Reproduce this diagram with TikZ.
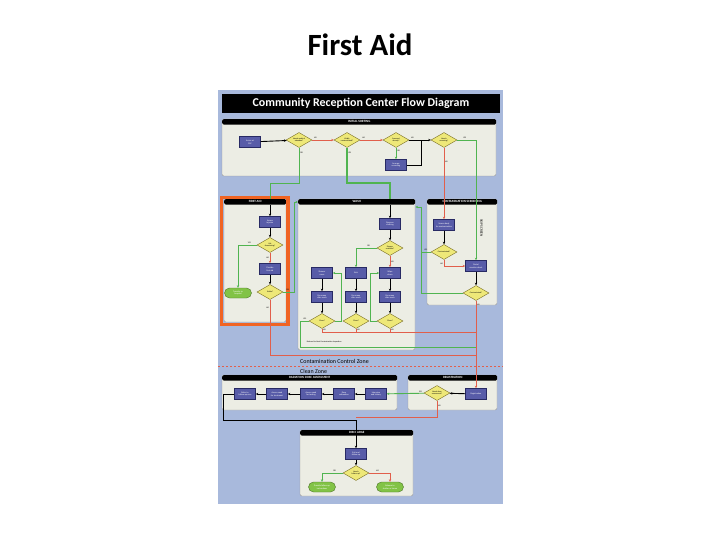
\documentclass[tikz,border=0pt]{standalone}
\usepackage{fontspec}
\setmainfont{Carlito}
\usetikzlibrary{positioning,calc}
\usetikzlibrary{arrows.meta,shapes.geometric}
\definecolor{SheetBlue}{RGB}{168,185,220}
\definecolor{PanelGray}{RGB}{236,237,228}
\definecolor{ActBlue}{RGB}{88,92,168}
\definecolor{ActRim}{RGB}{40,42,100}
\definecolor{AskYellow}{RGB}{238,232,120}
\definecolor{AskRim}{RGB}{120,110,40}
\definecolor{GoGreen}{RGB}{80,180,80}
\definecolor{StopRed}{RGB}{225,95,75}
\definecolor{EndGreen}{RGB}{130,195,70}
\definecolor{FrameOrange}{RGB}{240,100,35}
\tikzset{
  panel/.style={draw=black!40,fill=PanelGray,rounded corners=2bp,line width=0.4bp},
  bar/.style={fill=black,rounded corners=1.5bp,text=white,inner sep=0,
    font=\bfseries\fontsize{3.2}{3.5}\selectfont},
  act/.style={draw=ActRim,fill=ActBlue,line width=0.5bp,minimum width=21bp,
    minimum height=11bp,inner sep=0.5bp,text=white,align=center,
    font=\fontsize{2.2}{2.6}\selectfont},
  ask/.style={diamond,draw=AskRim,fill=AskYellow,line width=0.4bp,aspect=1.7,
    minimum width=26bp,minimum height=15bp,inner sep=0,align=center,
    font=\fontsize{2}{2.4}\selectfont},
  done/.style={draw=EndGreen!60!black,fill=EndGreen,rounded corners=5bp,
    minimum width=27bp,minimum height=10bp,inner sep=0.5bp,align=center,
    text=white,font=\fontsize{2.2}{2.6}\selectfont},
  flow/.style={line width=0.9bp,-{Stealth[length=2.6bp,width=2.4bp]}},
  go/.style={flow,draw=GoGreen},
  stop/.style={flow,draw=StopRed},
  lab/.style={font=\fontsize{2}{2.4}\selectfont,inner sep=0.6bp},
}

\begin{document}
\begin{tikzpicture}[x=1bp,y=-1bp]
\useasboundingbox (0,0) rectangle (720,540);
\fill[white] (0,0) rectangle (720,540);
\node[font=\bfseries\fontsize{31}{33}\selectfont] (slidetitle) at (360,45) {First Aid};

% poster
\fill[SheetBlue] (218,90) rectangle (503,504);
\node[fill=black,text=white,minimum width=278bp,minimum height=19bp,inner sep=0,
  font=\bfseries\fontsize{12}{13}\selectfont] (postertitle) at (361,103.5)
  {Community Reception Center Flow Diagram};

\foreach \xa/\ya/\xb/\yb/\tag/\txt in {
  222/119/496/176/sort/INITIAL SORTING,
  224/199/286/322/aid/FIRST AID,
  298/199/415/350/wash/WASH,
  427/199/497/305/screen/CONTAMINATION SCREENING,
  222/375/397/410/dose/RADIATION DOSE ASSESSMENT,
  408/375/497/410/reg/REGISTRATION,
  300/430/413/496/dis/DISCHARGE} {
  \draw[panel] (\xa,\ya) rectangle (\xb,\yb);
  \node[bar,minimum width=\xb bp-\xa bp,minimum height=5.5bp,anchor=north west]
    (hdr-\tag) at (\xa,\ya) {\txt};
}
\draw[FrameOrange,line width=3.5bp] (221.5,197.5) rectangle (288,324.5);

% initial sorting
\node[act] (arrive) at (250,142) {Arrive at\\CRC};
\node[ask] (s1) at (299,140) {Needs medical\\attention?};
\node[ask] (s2) at (347,140) {Visibly\\contaminated?};
\node[ask] (s3) at (396,140) {Screened\\already?};
\node[act] (s3b) at (396,165) {Arrange\\screening};
\node[ask] (s4) at (444,140) {Needs\\screening?};
\coordinate (j1) at (421,140);
\coordinate (b1) at (270,183);
\coordinate (b2) at (390,183);
\draw[flow] (arrive) -- (s1);
\draw[stop] (s1) -- node[lab,above,pos=0.15]{NO} (s2);
\draw[stop] (s2) -- node[lab,above,pos=0.15]{NO} (s3);
\draw[flow] (s3) -- node[lab,above,pos=0.15]{NO} (s4);
\draw[go] (s3) -- node[lab,right,pos=0.3]{YES} (s3b);
\draw[flow,-] (s3b) -| (j1);
\draw[go,-] (s1) -- node[lab,right,pos=0.15]{YES} (s1 |- b1) -- (b1) -- (b1 |- hdr-aid.north);
\draw[go,-,line width=1.3bp] (s2) -- node[lab,right,pos=0.15]{YES} (s2 |- b2) -- (b2) -- (b2 |- hdr-wash.north);

% first aid
\node[act] (fa1) at (270,222) {Assess\\injuries};
\node[ask] (fa2) at (270,245) {Life\\threatening?};
\node[act] (fa3) at (270,269) {Provide\\first aid};
\node[ask] (fa4) at (270,292) {Stable?};
\node[done] (fat) at (238,293) {Transfer to\\hospital};
\coordinate (b3) at (294,202);
\coordinate (j2) at (476,355);
\draw[flow] (fa1 |- hdr-aid.south) -- (fa1);
\draw[flow] (fa1) -- (fa2);
\draw[stop] (fa2) -- node[lab,left]{NO} (fa3);
\draw[go] (fa2) -| node[lab,above,pos=0.2]{YES} (fat);
\draw[flow] (fa3) -- (fa4);
\draw[go] (fa4) -| node[lab,above,pos=0.2]{YES} (b3) -- (hdr-wash.west |- b3);
\draw[stop,-] (fa4) -- node[lab,left,pos=0.15]{NO} (fa4 |- j2) -- (j2);

% wash
\node[act] (w0) at (390,224) {Remove\\clothing};
\node[ask] (w1) at (390,248) {Shower\\available?};
\node[act] (wa) at (322,273) {Shower\\room};
\node[act] (wb) at (356,273) {Sink};
\node[act] (wc) at (390,273) {Wipe\\down};
\node[act] (wd) at (322,297) {Re-screen\\after wash};
\node[act] (we) at (356,297) {Re-screen\\after wash};
\node[act] (wf) at (390,297) {Re-screen\\after wash};
\node[ask] (wg) at (322,321) {Clean?};
\node[ask] (wh) at (356,321) {Clean?};
\node[ask] (wi) at (390,321) {Clean?};
\coordinate (j3) at (476,332);
\coordinate (j5) at (476,347);
\draw[flow] (w0 |- hdr-wash.south) -- (w0);
\draw[flow] (w0) -- (w1);
\draw[go] (w1) -| node[lab,above,pos=0.2]{YES} (wb);
\draw[stop] (w1) -- node[lab,right]{NO} (wc);
\foreach \top/\mid/\low in {wa/wd/wg,wb/we/wh,wc/wf/wi} {
  \draw[flow] (\top) -- (\mid);
  \draw[flow] (\mid) -- (\low);
  \draw[stop,-] (\low) -- node[lab,right,pos=0.4]{NO} (\low |- j3);
}
\draw[stop,-] (wg |- j3) -- (j3);
\draw[go] (wg.east) -- ++(6,0) |- (wa.east);
\draw[go] (wi.west) -- ++(-6,0) |- (wc.west);
\draw[go,-] (wg.west) -- node[lab,above]{YES} ++(-8,0) |- (j5);
\node[lab,anchor=west] (washnote) at (306,342) {Referred to Next Contamination Inspection};

% contamination screening
\node[act] (sc1) at (444,225) {Screen body\\for contamination};
\node[ask] (sc2) at (444,252) {Contaminated?};
\node[act] (sc3) at (476,266) {Portal\\monitor check};
\node[ask] (sc4) at (476,293) {Contaminated?};
\node[rotate=-90,inner sep=0,font=\fontsize{3.5}{4}\selectfont] (skiplab) at (481.5,228) {SKIP SCREEN};
\coordinate (j6) at (421,207);
\draw[stop] (s4) -- node[lab,right,pos=0.2]{NO} (sc1);
\draw[go] (s4) -| node[lab,above,pos=0.2]{YES} (sc3);
\draw[flow] (sc1) -- (sc2);
\draw[stop] (sc2) |- node[lab,left,pos=0.3]{NO} (sc3);
\draw[flow] (sc3) -- (sc4);
\draw[go,-] (sc2) -- node[lab,above]{YES} (sc2 -| j6) -- (sc4 -| j6) -- (sc4);
\draw[go] (sc2 -| j6) -- (j6) -- (hdr-wash.east |- j6);

% zones
\draw[StopRed,line width=0.6bp,dash pattern=on 2bp off 2bp] (218,366) -- (503,366);
\node[anchor=west,inner sep=0,font=\fontsize{6}{7}\selectfont] (czone) at (300,361) {Contamination Control Zone};
\node[anchor=west,inner sep=0,font=\fontsize{6}{7}\selectfont] (clzone) at (300,371.5) {Clean Zone};

% registration and dose
\node[act] (rg1) at (476,394) {Registration};
\node[ask] (rg2) at (437,393) {Needs dose\\assessment?};
\foreach \n/\x/\txt in {1/245/Refer to\\follow-up care,2/277/Assess need\\for treatment,
  3/311/Assess need\\for testing,4/344/Dose\\estimation,5/376/Interview\\and history} {
  \node[act] (d\n) at (\x,394) {\txt};
}
\coordinate (j4) at (356,417);
\coordinate (k1) at (223,420);
\coordinate (k2) at (356,420);
\draw[stop] (sc4) -- node[lab,right,pos=0.05]{NO} (rg1);
\draw[stop,-] (j2) -- (j3);
\draw[flow] (rg1) -- (rg2);
\draw[go] (rg2) -- node[lab,above,pos=0.1]{YES} (d5);
\foreach \a/\b in {5/4,4/3,3/2,2/1} \draw[flow] (d\a) -- (d\b);
\draw[stop,-] (rg2) -- node[lab,right,pos=0.3]{NO} (rg2 |- j4) -- (j4);
\draw[flow,-] (d1) -| (k1) -- (k2);

% discharge
\node[act] (x1) at (356,454) {Exit and\\follow-up};
\node[ask] (x2) at (356,473) {Needs\\follow-up?};
\node[done] (t1) at (322,487) {Provide follow-up\\instructions};
\node[done] (t2) at (390,487) {Release to\\shelter or home};
\draw[flow] (k2) -- (x1);
\draw[flow] (x1) -- (x2);
\draw[go] (x2) -| node[lab,above,pos=0.2]{YES} (t1);
\draw[stop] (x2) -| node[lab,above,pos=0.2]{NO} (t2);
\end{tikzpicture}
\end{document}
